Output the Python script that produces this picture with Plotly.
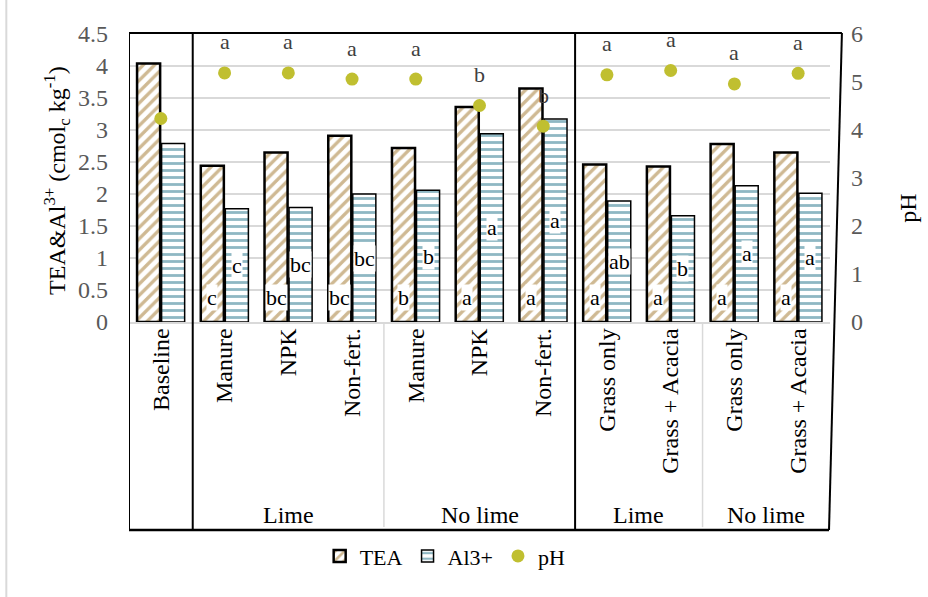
import plotly.graph_objects as go

# Treatment layout along the category axis
treatments = ["Baseline", "Manure", "NPK", "Non-fert.", "Manure", "NPK", "Non-fert.",
              "Grass only", "Grass + Acacia", "Grass only", "Grass + Acacia"]
group_labels = ["Lime", "No lime", "Lime", "No lime"]
group_centers = [2, 5, 7.5, 9.5]

# Measured values
tea = [4.04, 2.44, 2.65, 2.91, 2.72, 3.36, 3.65, 2.46, 2.43, 2.78, 2.65]
al3 = [2.79, 1.77, 1.79, 2.00, 2.06, 2.94, 3.17, 1.89, 1.66, 2.13, 2.01]
ph = [4.24, 5.19, 5.19, 5.06, 5.06, 4.51, 4.08, 5.15, 5.24, 4.96, 5.18]

# Mean-separation letters
tea_letters = ["", "c", "bc", "bc", "b", "a", "a", "a", "a", "a", "a"]
al3_letters = ["", "c", "bc", "bc", "b", "a", "a", "ab", "b", "a", "a"]
ph_letters = ["", "a", "a", "a", "a", "b", "b", "a", "a", "a", "a"]

FONT = "Liberation Serif"
BARGAP = 0.23
BARGROUPGAP = 0.06
slot = (1 - BARGAP) / 2
xs = list(range(len(treatments)))

fig = go.Figure()
fig.add_trace(go.Bar(
    x=xs, y=tea, name="TEA",
    marker=dict(color="white", line=dict(color="black", width=2.5),
                pattern=dict(shape="/", fgcolor="#A07428", bgcolor="white",
                             size=8, solidity=0.42)),
))
fig.add_trace(go.Bar(
    x=xs, y=al3, name="Al3+",
    marker=dict(color="white", line=dict(color="black", width=1.5),
                pattern=dict(shape="-", fgcolor="#1F7088", bgcolor="white",
                             size=7, solidity=0.4)),
))
fig.add_trace(go.Scatter(
    x=xs, y=ph, name="pH", yaxis="y2", mode="markers",
    marker=dict(color="#C0BF30", size=13),
))

ann = []
for i in xs:
    if tea_letters[i]:
        ann.append(dict(x=i - slot / 2, y=0.38, xref="x", yref="y", text=tea_letters[i],
                        showarrow=False, bgcolor="white", borderpad=0,
                        xanchor="center", yanchor="middle",
                        font=dict(family=FONT, size=22, color="black")))
    if al3_letters[i]:
        ann.append(dict(x=i + slot / 2, y=al3[i] / 2, xref="x", yref="y", text=al3_letters[i],
                        showarrow=False, bgcolor="white", borderpad=0,
                        xanchor="center", yanchor="middle",
                        font=dict(family=FONT, size=22, color="black")))
    if ph_letters[i]:
        ann.append(dict(x=i, y=ph[i], xref="x", yref="y2", text=ph_letters[i],
                        showarrow=False, yshift=31, xanchor="center", yanchor="middle",
                        font=dict(family=FONT, size=22, color="#404040")))

for lab, cx in zip(group_labels, group_centers):
    ann.append(dict(x=cx, y=-0.67, xref="x", yref="paper", text=lab, showarrow=False,
                    xanchor="center", yanchor="middle",
                    font=dict(family=FONT, size=24, color="black")))

ann.append(dict(x=-0.1027, y=0.49, xref="paper", yref="paper", textangle=-90,
                xanchor="center", yanchor="middle",
                text="TEA&Al<sup>3+</sup> (cmol<sub>c</sub> kg<sup>-1</sup>)", showarrow=False,
                font=dict(family=FONT, size=24, color="black")))
ann.append(dict(x=1.111, y=0.396, xref="paper", yref="paper", textangle=-90,
                xanchor="center", yanchor="middle",
                text="pH", showarrow=False,
                font=dict(family=FONT, size=24, color="black")))

Y_TOP = 1.0035
Y_BOT = -0.7222
shapes = [
    # outer frame
    dict(type="line", xref="x", yref="paper", x0=-0.5, x1=-0.5, y0=Y_BOT, y1=Y_TOP,
         line=dict(color="black", width=2)),
    dict(type="line", xref="paper", yref="paper", x0=0.0, x1=1.017, y0=Y_TOP, y1=Y_TOP,
         line=dict(color="black", width=2)),
    dict(type="line", xref="paper", yref="paper", x0=1.017, x1=0.9986, y0=Y_TOP, y1=Y_BOT,
         line=dict(color="black", width=2)),
    dict(type="line", xref="paper", yref="paper", x0=0.0, x1=0.9986, y0=Y_BOT, y1=Y_BOT,
         line=dict(color="black", width=2.5)),
    # section dividers
    dict(type="line", xref="x", yref="paper", x0=0.5, x1=0.5, y0=Y_BOT, y1=Y_TOP,
         line=dict(color="black", width=2)),
    dict(type="line", xref="x", yref="paper", x0=6.5, x1=6.5, y0=Y_BOT, y1=Y_TOP,
         line=dict(color="black", width=2)),
    # group dividers in the label area
    dict(type="line", xref="x", yref="paper", x0=3.5, x1=3.5, y0=Y_BOT + 0.01, y1=0,
         line=dict(color="#D9D9D9", width=1.5)),
    dict(type="line", xref="x", yref="paper", x0=8.5, x1=8.5, y0=Y_BOT + 0.01, y1=0,
         line=dict(color="#D9D9D9", width=1.5)),
    # chart area edge
    dict(type="line", xref="paper", yref="paper", x0=-0.175, x1=-0.175, y0=-1.0, y1=1.2,
         line=dict(color="#D9D9D9", width=2)),
]

fig.update_layout(
    width=928, height=597,
    margin=dict(l=129, r=98, t=34, b=275),
    paper_bgcolor="white", plot_bgcolor="white",
    barmode="group", bargap=BARGAP, bargroupgap=BARGROUPGAP,
    font=dict(family=FONT, size=24, color="black"),
    xaxis=dict(tickvals=xs, ticktext=treatments, tickangle=-90, range=[-0.5, 10.5],
               showgrid=False, showline=True, linecolor="#D9D9D9", linewidth=1.5,
               ticks="", ticklabelstandoff=-5,
               tickfont=dict(family=FONT, size=24, color="black")),
    yaxis=dict(range=[0, 4.5], dtick=0.5, showgrid=True, gridcolor="#D9D9D9", gridwidth=1.5,
               zeroline=False, showline=False, ticks="", ticklabelstandoff=20,
               tickfont=dict(family=FONT, size=24, color="#595959")),
    yaxis2=dict(range=[0, 6], dtick=1, overlaying="y", side="right", showgrid=False,
                zeroline=False, showline=False, ticks="", ticklabelstandoff=20,
                tickfont=dict(family=FONT, size=24, color="#595959")),
    legend=dict(orientation="h", x=0.272, y=-0.74, xanchor="left", yanchor="top",
                font=dict(family=FONT, size=22, color="black"), itemwidth=30,
                traceorder="normal"),
    annotations=ann,
    shapes=shapes,
    showlegend=True,
)

fig.write_html("out.html")
